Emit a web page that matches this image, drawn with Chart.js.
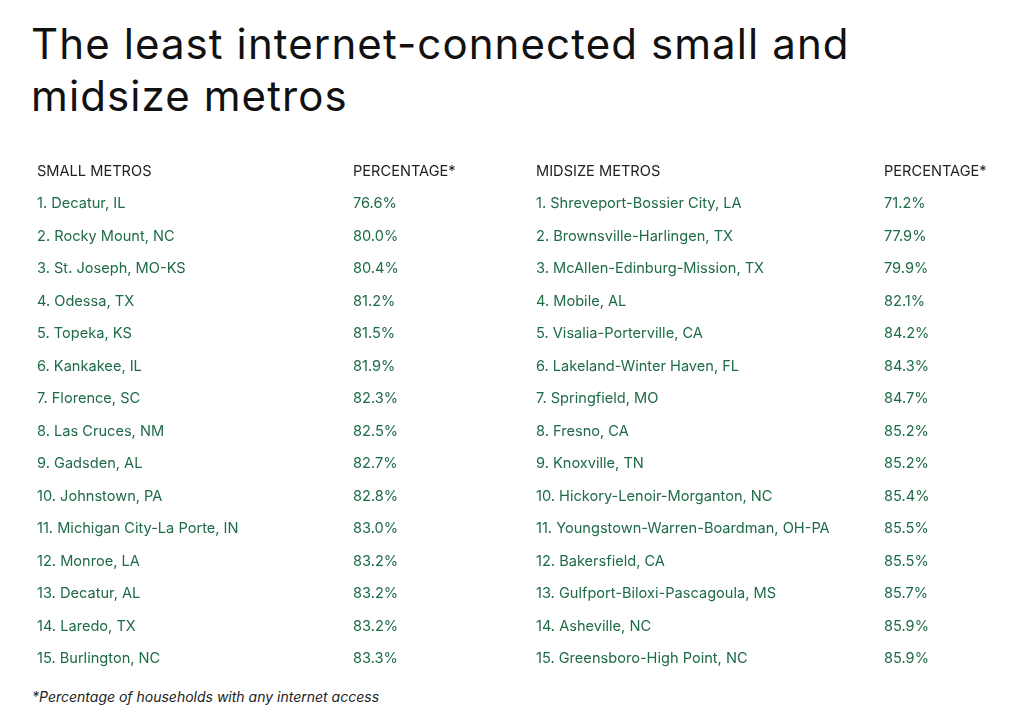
<!DOCTYPE html>
<html><head><meta charset="utf-8">
<script src="https://cdn.jsdelivr.net/npm/chart.js@4/dist/chart.umd.min.js"></script>
<style>
body{margin:0;background:#fff;width:1024px;height:715px;overflow:hidden;font-family:Inter,"Open Sans",sans-serif;position:relative}
h1{position:absolute;left:31px;top:18px;margin:0;font-weight:400;font-size:42px;line-height:52px;color:#111;letter-spacing:1.1px}
#wrap{position:absolute;left:0;top:155px;width:1024px;height:520px}
.note{position:absolute;left:32px;top:688px;font-size:14px;font-style:italic;color:#222}
</style></head><body>
<h1>The least internet-connected small and<br>midsize metros</h1>
<div id="wrap"><canvas id="c"></canvas></div>
<div class="note">*Percentage of households with any internet access</div>
<script>
const headers = ['SMALL METROS','PERCENTAGE*','MIDSIZE METROS','PERCENTAGE*'];
const smallMetros = ['Decatur, IL','Rocky Mount, NC','St. Joseph, MO-KS','Odessa, TX','Topeka, KS','Kankakee, IL','Florence, SC','Las Cruces, NM','Gadsden, AL','Johnstown, PA','Michigan City-La Porte, IN','Monroe, LA','Decatur, AL','Laredo, TX','Burlington, NC'];
const smallPct = [76.6,80.0,80.4,81.2,81.5,81.9,82.3,82.5,82.7,82.8,83.0,83.2,83.2,83.2,83.3];
const midMetros = ['Shreveport-Bossier City, LA','Brownsville-Harlingen, TX','McAllen-Edinburg-Mission, TX','Mobile, AL','Visalia-Porterville, CA','Lakeland-Winter Haven, FL','Springfield, MO','Fresno, CA','Knoxville, TN','Hickory-Lenoir-Morganton, NC','Youngstown-Warren-Boardman, OH-PA','Bakersfield, CA','Gulfport-Biloxi-Pascagoula, MS','Asheville, NC','Greensboro-High Point, NC'];
const midPct = [71.2,77.9,79.9,82.1,84.2,84.3,84.7,85.2,85.2,85.4,85.5,85.5,85.7,85.9,85.9];
const rows = ['header'].concat(smallMetros.map((_,i)=>String(i+1)));
const colX = [37,353,536,884];
const green = '#1e6b47';
const tablePlugin = {
  id:'table',
  afterDraw(chart){
    const ctx = chart.ctx, y = chart.scales.y;
    ctx.save();
    ctx.textBaseline='middle';
    ctx.font='14.6px Inter, "Open Sans", sans-serif';
    ctx.fillStyle='#222';
    headers.forEach((h,i)=>ctx.fillText(h,colX[i],y.getPixelForValue(0)));
    ctx.fillStyle=green;
    for(let i=0;i<smallMetros.length;i++){
      const py = y.getPixelForValue(i+1);
      ctx.fillText((i+1)+'. '+smallMetros[i],colX[0],py);
      ctx.fillText(smallPct[i].toFixed(1)+'%',colX[1],py);
      ctx.fillText((i+1)+'. '+midMetros[i],colX[2],py);
      ctx.fillText(midPct[i].toFixed(1)+'%',colX[3],py);
    }
    ctx.restore();
  }
};
new Chart(document.getElementById('c'),{
  type:'bar',
  data:{labels:rows,datasets:[{data:rows.map(()=>null)}]},
  options:{responsive:true,maintainAspectRatio:false,animation:false,
    layout:{padding:0},
    plugins:{legend:{display:false},tooltip:{enabled:false}},
    scales:{
      y:{type:'category',display:false,offset:true},
      x:{type:'linear',display:false,min:0,max:100}
    },
    indexAxis:'y'
  },
  plugins:[tablePlugin]
});
</script>
</body></html>
